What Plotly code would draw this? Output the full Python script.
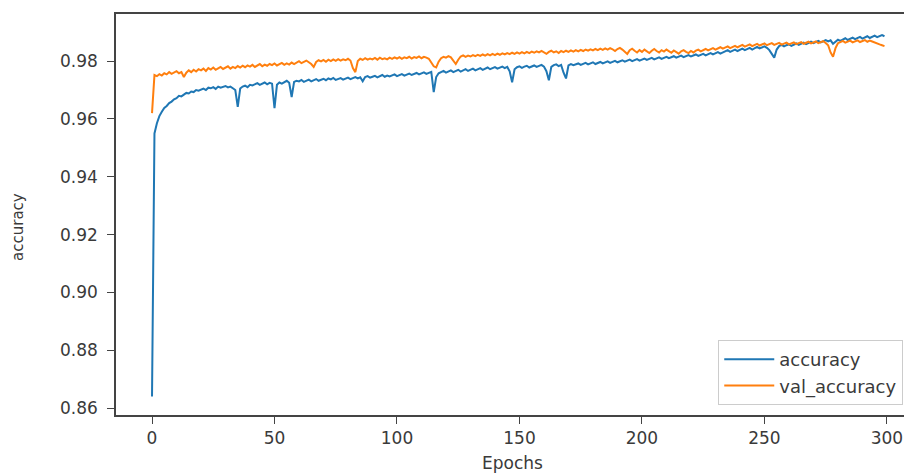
import plotly.graph_objects as go

accuracy = [
    0.8640, 0.9550, 0.9585, 0.9610, 0.9625, 0.9638, 0.9645, 0.9655, 0.9660, 0.9668,
    0.9672, 0.9680, 0.9678, 0.9685, 0.9690, 0.9688, 0.9695, 0.9693, 0.9700, 0.9698,
    0.9702, 0.9705, 0.9700, 0.9708, 0.9706, 0.9710, 0.9704, 0.9712, 0.9708, 0.9710,
    0.9714, 0.9709, 0.9712, 0.9706, 0.9700, 0.9642, 0.9705, 0.9712, 0.9715, 0.9710,
    0.9718, 0.9716, 0.9720, 0.9724, 0.9718, 0.9722, 0.9726, 0.9720, 0.9725, 0.9722,
    0.9637, 0.9718, 0.9726, 0.9722, 0.9728, 0.9732, 0.9725, 0.9676, 0.9728, 0.9732,
    0.9730, 0.9735, 0.9728, 0.9733, 0.9736, 0.9730, 0.9734, 0.9738, 0.9732, 0.9736,
    0.9739, 0.9734, 0.9740, 0.9737, 0.9742, 0.9735, 0.9738, 0.9741, 0.9736, 0.9740,
    0.9743, 0.9738, 0.9742, 0.9745, 0.9740, 0.9744, 0.9730, 0.9745, 0.9748, 0.9743,
    0.9746, 0.9749, 0.9744, 0.9748, 0.9752, 0.9746, 0.9750, 0.9747, 0.9751, 0.9754,
    0.9748, 0.9752, 0.9755, 0.9750, 0.9754, 0.9757, 0.9752, 0.9756, 0.9759, 0.9754,
    0.9758, 0.9761, 0.9756, 0.9760, 0.9763, 0.9693, 0.9745, 0.9758, 0.9762, 0.9766,
    0.9760, 0.9764, 0.9768, 0.9762, 0.9766, 0.9770, 0.9764, 0.9768, 0.9772, 0.9766,
    0.9770, 0.9774, 0.9768, 0.9772, 0.9776, 0.9770, 0.9774, 0.9778, 0.9772, 0.9776,
    0.9779, 0.9774, 0.9778, 0.9781, 0.9776, 0.9780, 0.9765, 0.9727, 0.9772, 0.9779,
    0.9782, 0.9777, 0.9781, 0.9784, 0.9778, 0.9782, 0.9785, 0.9780, 0.9784, 0.9787,
    0.9781, 0.9765, 0.9734, 0.9780, 0.9786, 0.9789, 0.9783, 0.9787, 0.9760, 0.9740,
    0.9785, 0.9790, 0.9786, 0.9789, 0.9792, 0.9787, 0.9791, 0.9794, 0.9789, 0.9793,
    0.9796, 0.9790, 0.9794, 0.9797, 0.9792, 0.9796, 0.9799, 0.9794, 0.9798, 0.9801,
    0.9796, 0.9800, 0.9803, 0.9798, 0.9802, 0.9805, 0.9800, 0.9804, 0.9807, 0.9802,
    0.9806, 0.9809, 0.9804, 0.9808, 0.9811, 0.9806, 0.9810, 0.9813, 0.9808, 0.9812,
    0.9815, 0.9810, 0.9814, 0.9817, 0.9812, 0.9816, 0.9819, 0.9814, 0.9818, 0.9821,
    0.9816, 0.9820, 0.9823, 0.9818, 0.9822, 0.9825, 0.9820, 0.9824, 0.9828, 0.9823,
    0.9827, 0.9831, 0.9826, 0.9830, 0.9834, 0.9838, 0.9832, 0.9836, 0.9840, 0.9835,
    0.9839, 0.9843, 0.9838, 0.9842, 0.9846, 0.9840, 0.9845, 0.9849, 0.9844, 0.9848,
    0.9851, 0.9846, 0.9838, 0.9825, 0.9812, 0.9840, 0.9852, 0.9856, 0.9851, 0.9855,
    0.9858, 0.9853, 0.9857, 0.9861, 0.9856, 0.9860, 0.9864, 0.9859, 0.9863, 0.9867,
    0.9862, 0.9866, 0.9870, 0.9865, 0.9869, 0.9873, 0.9868, 0.9872, 0.9860, 0.9868,
    0.9874, 0.9870, 0.9875, 0.9879, 0.9873, 0.9877, 0.9881, 0.9876, 0.9880, 0.9884,
    0.9878, 0.9882, 0.9886, 0.9880, 0.9884, 0.9888, 0.9883, 0.9887, 0.9890, 0.9886,
]

val_accuracy = [
    0.9620, 0.9752, 0.9748, 0.9755, 0.9750, 0.9758, 0.9754, 0.9762, 0.9756, 0.9760,
    0.9765, 0.9758, 0.9762, 0.9745, 0.9760, 0.9768, 0.9762, 0.9770, 0.9764, 0.9772,
    0.9768, 0.9774, 0.9766, 0.9776, 0.9771, 0.9778, 0.9770, 0.9775, 0.9780, 0.9773,
    0.9778, 0.9782, 0.9774, 0.9780, 0.9776, 0.9783, 0.9778, 0.9784, 0.9779, 0.9785,
    0.9781, 0.9787, 0.9780, 0.9786, 0.9790, 0.9782, 0.9788, 0.9784, 0.9790, 0.9786,
    0.9792, 0.9785, 0.9790, 0.9794, 0.9787, 0.9792, 0.9788, 0.9795, 0.9790, 0.9796,
    0.9800, 0.9793, 0.9798, 0.9802, 0.9796, 0.9790, 0.9780, 0.9797, 0.9803, 0.9799,
    0.9804, 0.9798, 0.9805, 0.9800, 0.9806, 0.9801, 0.9807, 0.9802, 0.9806, 0.9803,
    0.9808, 0.9802, 0.9776, 0.9762, 0.9800, 0.9808, 0.9804, 0.9810, 0.9805, 0.9809,
    0.9806, 0.9811, 0.9805, 0.9812, 0.9807, 0.9810, 0.9806, 0.9812, 0.9808, 0.9813,
    0.9809, 0.9814, 0.9808, 0.9813, 0.9810, 0.9815, 0.9809, 0.9814, 0.9811, 0.9816,
    0.9810, 0.9815, 0.9812, 0.9808, 0.9795, 0.9782, 0.9778, 0.9798, 0.9810, 0.9815,
    0.9812, 0.9817, 0.9813, 0.9800, 0.9790, 0.9805, 0.9816, 0.9820, 0.9815, 0.9819,
    0.9816, 0.9821, 0.9817, 0.9822, 0.9818, 0.9823, 0.9819, 0.9824, 0.9820, 0.9825,
    0.9821, 0.9826, 0.9822, 0.9827, 0.9823, 0.9828, 0.9824, 0.9829, 0.9825, 0.9830,
    0.9826, 0.9831, 0.9827, 0.9832, 0.9828, 0.9833, 0.9829, 0.9834, 0.9830, 0.9835,
    0.9831, 0.9825, 0.9832, 0.9836, 0.9830, 0.9834, 0.9828, 0.9835, 0.9831, 0.9836,
    0.9832, 0.9837, 0.9833, 0.9838, 0.9834, 0.9839, 0.9835, 0.9840, 0.9836, 0.9841,
    0.9837, 0.9842, 0.9838, 0.9843, 0.9839, 0.9844, 0.9840, 0.9845, 0.9841, 0.9835,
    0.9842, 0.9846, 0.9840, 0.9832, 0.9825, 0.9838, 0.9843, 0.9836, 0.9830, 0.9838,
    0.9832, 0.9840, 0.9834, 0.9828, 0.9836, 0.9842, 0.9835, 0.9830, 0.9838, 0.9833,
    0.9840, 0.9834, 0.9829, 0.9837, 0.9831, 0.9826, 0.9834, 0.9838, 0.9832, 0.9828,
    0.9835, 0.9830, 0.9836, 0.9840, 0.9834, 0.9838, 0.9842, 0.9837, 0.9841, 0.9845,
    0.9840, 0.9844, 0.9848, 0.9843, 0.9847, 0.9851, 0.9845, 0.9849, 0.9853, 0.9848,
    0.9852, 0.9856, 0.9850, 0.9854, 0.9858, 0.9852, 0.9856, 0.9860, 0.9854, 0.9858,
    0.9861, 0.9855, 0.9859, 0.9862, 0.9856, 0.9860, 0.9863, 0.9857, 0.9861, 0.9864,
    0.9858, 0.9862, 0.9865, 0.9859, 0.9863, 0.9866, 0.9860, 0.9864, 0.9867, 0.9861,
    0.9865, 0.9868, 0.9862, 0.9866, 0.9869, 0.9863, 0.9855, 0.9830, 0.9815, 0.9845,
    0.9862, 0.9866, 0.9870, 0.9864, 0.9868, 0.9871, 0.9865, 0.9869, 0.9872, 0.9866,
    0.9870, 0.9873, 0.9867, 0.9871, 0.9868, 0.9864, 0.9860, 0.9858, 0.9855, 0.9852,
]

epochs = list(range(len(accuracy)))
x_ticks = [0, 50, 100, 150, 200, 250, 300]
y_ticks = [0.86, 0.88, 0.90, 0.92, 0.94, 0.96, 0.98]

FONT = "DejaVu Sans"
TXT = "#3a3a3a"

fig = go.Figure()
fig.add_trace(go.Scatter(x=epochs, y=accuracy, mode="lines", name="accuracy",
                         line=dict(color="#1f77b4", width=2)))
fig.add_trace(go.Scatter(x=epochs, y=val_accuracy, mode="lines", name="val_accuracy",
                         line=dict(color="#ff7f0e", width=2)))

axis_common = dict(showline=True, linecolor="#444444", linewidth=1.5, mirror=True,
                   showgrid=False, zeroline=False, ticks="outside", ticklen=7,
                   tickwidth=1.2, tickcolor="#444444", automargin=False,
                   tickfont=dict(family=FONT, size=17, color=TXT))

# the page body adds an 8px offset, so the figure is 8px smaller on each side
fig.update_layout(
    width=904, height=467,
    margin=dict(l=108, r=4, t=6, b=60, autoexpand=False),
    paper_bgcolor="white", plot_bgcolor="white",
    font=dict(family=FONT, color=TXT),
    xaxis=dict(range=[-14.7, 308.6], tickvals=x_ticks, **axis_common),
    yaxis=dict(range=[0.8576, 0.9963], tickvals=y_ticks, tickformat=".2f",
               ticklabelstandoff=6, **axis_common),
    legend=dict(x=0.994, y=0.025, xanchor="right", yanchor="bottom",
                bgcolor="white", bordercolor="#cccccc", borderwidth=1,
                font=dict(family=FONT, size=18, color=TXT),
                itemwidth=50, tracegroupgap=0),
    showlegend=True,
    annotations=[
        dict(text="Epochs", xref="paper", yref="paper", x=0.5, y=0,
             xanchor="center", yanchor="middle", yshift=-48, showarrow=False,
             font=dict(family=FONT, size=17, color=TXT)),
        dict(text="accuracy", xref="paper", yref="paper", x=0, y=0.469,
             xanchor="center", yanchor="middle", xshift=-98, textangle=-90,
             showarrow=False, font=dict(family=FONT, size=15, color=TXT)),
    ],
)

fig.write_html("out.html")
